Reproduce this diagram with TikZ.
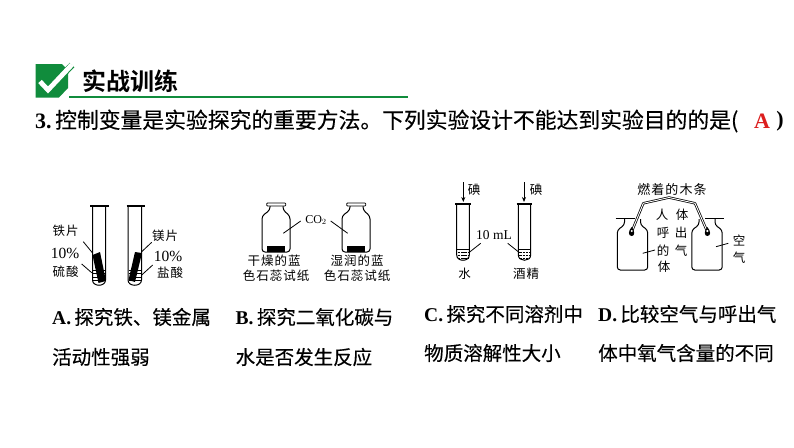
\documentclass[tikz,border=0pt]{standalone}
\usepackage{fontspec}
\usetikzlibrary{arrows.meta}
\setmainfont{Liberation Serif}
\newfontfamily\cjk[FakeBold=0.3]{Noto Sans CJK SC}
\newfontfamily\cjkb{Noto Sans CJK SC Bold}
\newfontfamily\cjks[LetterSpace=8]{Noto Sans CJK SC}
\definecolor{okgreen}{RGB}{16,140,60}
\definecolor{ansred}{RGB}{220,30,30}
\tikzset{
 hd/.style={inner sep=0,anchor=west,font=\fontsize{24}{24}\cjkb},
 qtext/.style={inner sep=0,anchor=west,font=\fontsize{21.8}{24}\cjk},
 opt/.style={inner sep=0,anchor=west,font=\fontsize{19.5}{24}\cjk},
 lab/.style={inner sep=0,font=\fontsize{12.5}{13}\cjks},
 ln/.style={line width=0.8pt,black},
 wall/.style={line width=1pt,black},
}
\newcommand{\testtube}[6]{% left wall, right wall, rimL, rimR, top, bottom
 \draw[wall] (#1,#5) -- (#1,#6-7) .. controls (#1,#6) and (#2,#6) .. (#2,#6-7) -- (#2,#5);
 \draw[line width=1.4pt] (#3,#5) -- (#4,#5);
}
\newcommand{\jar}[1]{% x offset from left jar
 \begin{scope}[xshift=#1]
 \draw[wall,rounded corners=3pt] (270,206) -- (270,210) -- (262,216) -- (262,252) -- (290,252) -- (290,216) -- (283,210) -- (283,206);
 \draw[line width=0.8pt,fill=white,rounded corners=0.8pt] (266.7,203) rectangle (285.7,206);
 \fill (266.5,246) rectangle (284.5,251.7);
 \end{scope}
}
\newcommand{\flask}[1]{%
 \begin{scope}[xshift=#1]
 \draw[wall,rounded corners=3pt] (624.5,219) -- (624.5,225) -- (617.3,230) -- (617.3,270) -- (647.7,270) -- (647.7,230) -- (640.5,225) -- (640.5,219);
 \end{scope}
}
\begin{document}
\begin{tikzpicture}[x=1pt,y=-1pt]
\useasboundingbox (0,0) rectangle (794,447);
\fill[white] (0,0) rectangle (794,447);
% heading
\fill[okgreen] (35.5,64) -- (62,64) -- (68,70) -- (68,88) -- (59,97.5) -- (35.5,97.5) -- cycle;
\draw[okgreen,line width=6.4pt,line join=miter] (48,90) -- (72,65);
\draw[white,line width=4.8pt,line join=miter] (40,81.5) -- (48,90) -- (72,64.5);
\draw[okgreen,line width=1.6pt] (69,97) -- (408,97);
\node[hd] (title) at (82.5,81) {实战训练};
% question
\node[inner sep=0,anchor=west,font=\fontsize{22}{24}\bfseries] (qnum) at (35,121) {3.};
\node[qtext] (q) at (55,121) {控制变量是实验探究的重要方法。下列实验设计不能达到实验目的的是(};
\node[inner sep=0,font=\fontsize{22}{24}\bfseries\color{ansred}] (ans) at (762,121) {A};
\node[inner sep=0,font=\fontsize{22}{24}\bfseries] (rp) at (780,121) {)};
% A: test tubes
\testtube{92.5}{105.5}{90}{108.5}{206}{287}
\testtube{128}{141.5}{126.5}{145}{206}{287}
\foreach \y in {270,273.5,277,280.5}{
 \draw[line width=0.6pt] (93,\y) -- (105,\y);
 \draw[line width=0.6pt] (128.5,\y) -- (141,\y);
}
\fill (92.5,255) -- (100,252) -- (106,281) -- (98.5,283) -- cycle;
\fill (135,252) -- (142,253) -- (135,282) -- (128.5,280) -- cycle;
\node[lab] (a1) at (65.5,231) {铁片};
\node[inner sep=0,font=\fontsize{15.5}{16}\selectfont] (a2) at (65,253) {10\%};
\node[lab] (a3) at (65.5,272) {硫酸};
\node[lab] (b1) at (165,236) {镁片};
\node[inner sep=0,font=\fontsize{15.5}{16}\selectfont] (b2) at (168,256) {10\%};
\node[lab] (b3) at (170,273) {盐酸};
\draw[ln] (83.3,241.7) -- (92.3,252.7);
\draw[ln] (81.7,264) -- (91.7,272.7);
\draw[ln] (151.7,242.3) -- (141.7,251.7);
\draw[ln] (152.7,265) -- (141.7,275);
% B: jars
\jar{0}
\jar{80}
\node[inner sep=0,font=\fontsize{12}{13}\selectfont] (co) at (316,220) {CO$_2$};
\draw[ln] (300.7,221) -- (283.3,233.3);
\draw[ln] (330.7,221) -- (347.7,233.3);
\node[lab] at (274,261) {干燥的蓝};
\node[lab] at (276,276) {色石蕊试纸};
\node[lab] at (357,261) {湿润的蓝};
\node[lab] at (357,276) {色石蕊试纸};
% C: tubes
\testtube{456.7}{469.3}{455}{471}{204}{262}
\testtube{518.3}{530.7}{516.7}{532.3}{204}{262}
\foreach \xa/\xb in {456.7/469.3,518.3/530.7}{
 \draw[line width=0.6pt] (\xa,249) -- (\xb,249);
 \foreach \y in {252.5,255.5,258.5}{\draw[line width=0.7pt,dash pattern=on 2.5pt off 0.8pt] (\xa+1,\y) -- (\xb-1,\y);}
}
\coordinate (i1) at (463.3,182); \coordinate (i1e) at (463.3,202);
\coordinate (i2) at (524,182); \coordinate (i2e) at (524,202);
\draw[ln,-{Stealth[length=5pt,width=4pt]}] (i1) -- (i1e);
\draw[ln,-{Stealth[length=5pt,width=4pt]}] (i2) -- (i2e);
\node[lab] (c1) at (474,190) {碘};
\node[lab] (c2) at (536,190) {碘};
\node[inner sep=0,font=\fontsize{13.5}{14}\selectfont] (ml) at (494,235) {10 mL};
\draw[ln] (480.7,243.3) -- (469.3,252.3);
\draw[ln] (507.7,243.3) -- (519,252.3);
\node[lab] (c3) at (464.5,274) {水};
\node[lab] (c4) at (526,274) {酒精};
% D
\flask{0}
\flask{74.5}
\draw[line width=1.6pt] (615.7,218.5) -- (635,218.5);
\draw[line width=1.6pt] (705,218.5) -- (724.3,218.5);
\draw[line width=2.4pt,line join=round] (632,231) -- (643.3,203.3) -- (669,197.5) -- (695,203.3) -- (707,231);
\draw[white,line width=0.9pt,line join=round] (632,231) -- (643.3,203.3) -- (669,197.5) -- (695,203.3) -- (707,231);
\fill (631.7,227) .. controls (628,231) and (628,236) .. (631.7,236) .. controls (635,236) and (635,231) .. (631.7,227);
\fill (707.3,227) .. controls (704,231) and (704,236) .. (707.3,236) .. controls (711,236) and (711,231) .. (707.3,227);
\fill[white] (631.7,231) circle (1.2);
\fill[white] (707.3,231) circle (1.2);
\node[inner sep=0,font=\fontsize{13}{14}\cjks] (d0) at (672,190) {燃着的木条};
\node[lab] at (662,215) {人}; \node[lab] at (682,215) {体};
\node[lab] at (663,233) {呼}; \node[lab] at (681,233) {出};
\node[lab] at (663,251) {的}; \node[lab] at (681,251) {气};
\node[lab] at (664,267) {体};
\node[lab] at (739,240) {空}; \node[lab] at (739,258) {气};
\draw[ln] (655,250) -- (642.7,253.3);
\draw[ln] (728.3,243.3) -- (716,246.7);
% options
\node[opt] at (52,317) {{\bfseries\rmfamily A.}\,探究铁、镁金属};
\node[opt] at (52,357) {活动性强弱};
\node[opt] at (235.5,317) {{\bfseries\rmfamily B.}\,探究二氧化碳与};
\node[opt] at (235.5,357) {水是否发生反应};
\node[opt] at (424,314) {{\bfseries\rmfamily C.}\,探究不同溶剂中};
\node[opt] at (424,353) {物质溶解性大小};
\node[opt] at (598,314) {{\bfseries\rmfamily D.}\,比较空气与呼出气};
\node[opt] at (598,353) {体中氧气含量的不同};
\end{tikzpicture}
\end{document}
